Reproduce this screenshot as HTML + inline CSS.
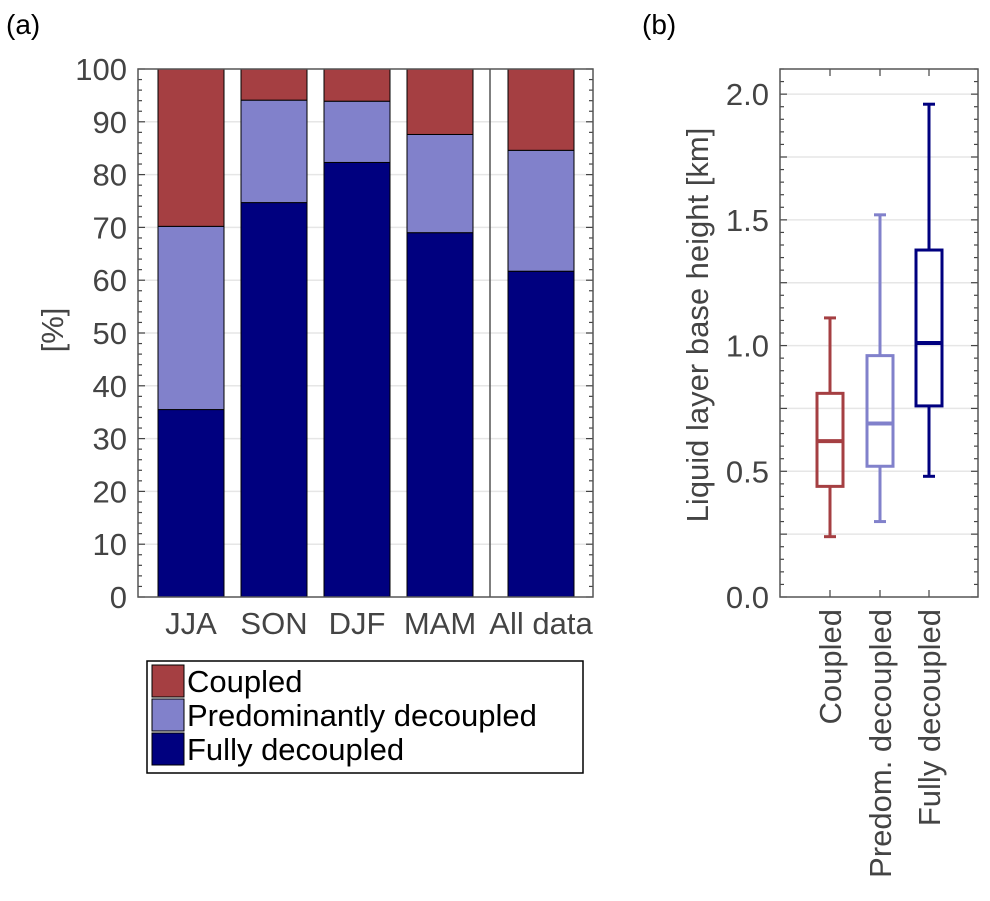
<!DOCTYPE html>
<html><head><meta charset="utf-8"><style>
body{margin:0;background:#fff}
svg{display:block;font-family:"Liberation Sans",Helvetica,Arial,sans-serif}
</style></head><body>
<svg id="fig" width="990" height="901" viewBox="0 0 990 901">
<text x="6" y="34" font-size="28" fill="#000">(a)</text>
<text x="642" y="34" font-size="28" fill="#000">(b)</text>
<g id="ga"></g>
<g id="gb"></g>
</svg>
<script>
const categories=["JJA","SON","DJF","MAM","All data"];
const fully=[35.5,74.7,82.3,69.0,61.7];
const predom=[34.7,19.4,11.6,18.6,22.9];
const coupled=[29.8,5.9,6.1,12.4,15.4];
const yTicksA=[0,10,20,30,40,50,60,70,80,90,100];
const boxNames=["Coupled","Predom. decoupled","Fully decoupled"];
const whiskLo=[0.24,0.30,0.48];
const q1=[0.44,0.52,0.76];
const med=[0.62,0.69,1.01];
const q3=[0.81,0.96,1.38];
const whiskHi=[1.11,1.52,1.96];
const yTicksB=[0.0,0.5,1.0,1.5,2.0];
const NS="http://www.w3.org/2000/svg";
function mk(p,t,a){const e=document.createElementNS(NS,t);for(const k in a)e.setAttribute(k,a[k]);p.appendChild(e);return e;}
const colC="#a53f42",colP="#8181cb",colF="#00007f";
const FS=31;
// Panel a
const ga=document.getElementById('ga');
const L=138,R=593,T=69,B=597;
const ya=v=>B-(v/100)*(B-T);
const bx=[158,241,324,407,508];const bw=66;
for(let v=10;v<100;v+=10){const g=mk(ga,'line',{x1:L,x2:R,y1:ya(v),y2:ya(v),stroke:'#e6e6e6','stroke-width':1.5});}
for(let i=0;i<categories.length;i++){
 const segs=[[0,fully[i],colF,'fully'],[fully[i],fully[i]+predom[i],colP,'predom'],[fully[i]+predom[i],fully[i]+predom[i]+coupled[i],colC,'coupled']];
 segs.forEach(s=>{const r=mk(ga,'rect',{x:bx[i],y:ya(s[1]),width:bw,height:ya(s[0])-ya(s[1]),fill:s[2],stroke:'#000','stroke-width':1});
 });
 const t=mk(ga,'text',{x:bx[i]+bw/2,y:634,'font-size':FS,fill:'#444','text-anchor':'middle'});t.textContent=categories[i];
 
}
const sep=mk(ga,'line',{x1:490,x2:490,y1:T,y2:B,stroke:'#555','stroke-width':1.5});

for(let v=0;v<=100;v+=2){const len=(v%10===0)?7:4;
 mk(ga,'line',{x1:L,x2:L+len,y1:ya(v),y2:ya(v),stroke:'#444','stroke-width':1.2});
 mk(ga,'line',{x1:R,x2:R-len,y1:ya(v),y2:ya(v),stroke:'#444','stroke-width':1.2});}
yTicksA.forEach(v=>{const t=mk(ga,'text',{x:127,y:ya(v)+11,'font-size':FS,fill:'#444','text-anchor':'end'});t.textContent=v;
 });
const fa=mk(ga,'rect',{x:L,y:T,width:R-L,height:B-T,fill:'none',stroke:'#555','stroke-width':1.5});

const yl=mk(ga,'text',{x:0,y:0,'font-size':FS,fill:'#444','text-anchor':'middle',transform:'translate(63,330) rotate(-90)'});yl.textContent='[%]';

// legend
const lg=mk(ga,'g',{});
mk(lg,'rect',{x:147,y:661,width:436,height:112,fill:'#fff',stroke:'#000','stroke-width':1.5});
[["Coupled",colC],["Predominantly decoupled",colP],["Fully decoupled",colF]].forEach((e,i)=>{
 const g=mk(lg,'g',{});
 mk(g,'rect',{x:152,y:665+i*34,width:32,height:32,fill:e[1],stroke:'#000','stroke-width':1});
 const t=mk(g,'text',{x:187,y:692+i*34,'font-size':FS,fill:'#000'});t.textContent=e[0];});
// Panel b
const gb=document.getElementById('gb');
const L2=780,R2=978,T2=69,B2=597;
const yb=v=>B2-(v/2.1)*(B2-T2);
for(let v=0.25;v<2.1;v+=0.25){const g=mk(gb,'line',{x1:L2,x2:R2,y1:yb(v),y2:yb(v),stroke:'#e6e6e6','stroke-width':1.5});}
for(let k=0;k<=42;k++){const v=k*0.05;const len=(k%5===0)?7:4;
 mk(gb,'line',{x1:L2,x2:L2+len,y1:yb(v),y2:yb(v),stroke:'#444','stroke-width':1.2});
 mk(gb,'line',{x1:R2,x2:R2-len,y1:yb(v),y2:yb(v),stroke:'#444','stroke-width':1.2});}
const cx=[830,880,929];const cols=[colC,colP,colF];const hw=13;
for(let i=0;i<boxNames.length;i++){
 mk(gb,'line',{x1:cx[i],x2:cx[i],y1:B2,y2:B2-7,stroke:'#444','stroke-width':1.2});
 mk(gb,'line',{x1:cx[i],x2:cx[i],y1:T2,y2:T2+7,stroke:'#444','stroke-width':1.2});
 const g=mk(gb,'g',{stroke:cols[i],'stroke-width':3,fill:'none'});
 
 mk(g,'line',{x1:cx[i],x2:cx[i],y1:yb(whiskLo[i]),y2:yb(q1[i])});
 mk(g,'line',{x1:cx[i],x2:cx[i],y1:yb(q3[i]),y2:yb(whiskHi[i])});
 mk(g,'line',{x1:cx[i]-6,x2:cx[i]+6,y1:yb(whiskLo[i]),y2:yb(whiskLo[i])});
 mk(g,'line',{x1:cx[i]-6,x2:cx[i]+6,y1:yb(whiskHi[i]),y2:yb(whiskHi[i])});
 mk(g,'rect',{x:cx[i]-hw,y:yb(q3[i]),width:2*hw,height:yb(q1[i])-yb(q3[i])});
 mk(g,'line',{x1:cx[i]-hw,x2:cx[i]+hw,y1:yb(med[i]),y2:yb(med[i]),'stroke-width':4});
 const t=mk(gb,'text',{x:0,y:0,'font-size':FS,fill:'#444','text-anchor':'end',transform:`translate(${cx[i]+11},609) rotate(-90)`});t.textContent=boxNames[i];
 
}
yTicksB.forEach(v=>{const t=mk(gb,'text',{x:769,y:yb(v)+11,'font-size':FS,fill:'#444','text-anchor':'end'});t.textContent=v.toFixed(1);
 });
const fb=mk(gb,'rect',{x:L2,y:T2,width:R2-L2,height:B2-T2,fill:'none',stroke:'#555','stroke-width':1.5});

const yl2=mk(gb,'text',{x:0,y:0,'font-size':FS,fill:'#444','text-anchor':'middle',transform:'translate(708,325) rotate(-90)'});yl2.textContent='Liquid layer base height [km]';

</script>
</body></html>
